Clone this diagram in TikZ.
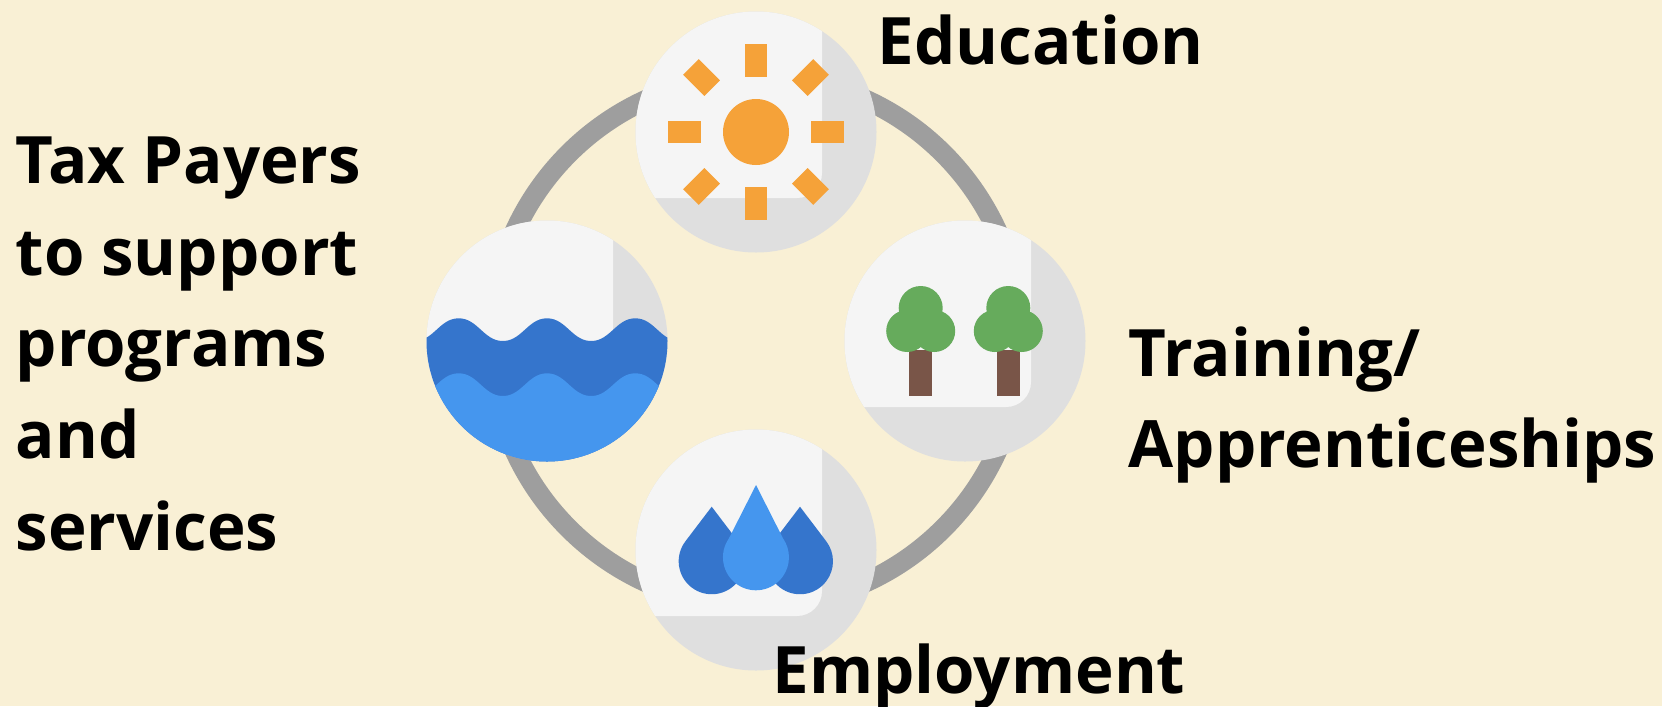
\documentclass[tikz,border=0pt]{standalone}
\usepackage{fontspec}
\setmainfont{Open Sans}
\definecolor{paper}{HTML}{F9F0D5}
\definecolor{ringgray}{HTML}{9E9E9E}
\definecolor{discshade}{HTML}{DFDFDF}
\definecolor{disclite}{HTML}{F5F5F5}
\definecolor{sunorange}{HTML}{F5A239}
\definecolor{deepblue}{HTML}{3575CC}
\definecolor{lightblue}{HTML}{4596EE}
\definecolor{leaf}{HTML}{66AB5C}
\definecolor{bark}{HTML}{795548}
\tikzset{
	disc/.style={circle, minimum size=2.41cm, inner sep=0pt, fill=discshade,
		path picture={\fill[disclite, rounded corners=.25cm, shift={(path picture bounding box.center)}]
			(-1.4,1.4) rectangle (.66,-.66);}},
	label/.style={inner sep=0pt, align=left, font=\fontsize{18.6}{26.1}\selectfont\bfseries},
	ray/.style={fill=sunorange},
	crown/.style={fill=leaf},
	trunk/.style={fill=bark}
}
\begin{document}
\begin{tikzpicture}
	\fill[paper] (0,0) rectangle (16.62,7.06);
	\useasboundingbox (0,0) rectangle (16.62,7.06);

	\coordinate (hub) at (7.56,3.65);
	\draw[ringgray, line width=.2cm] (hub) circle (2.65);

	\node[disc] (sun) at (7.56,5.74){};
	\node[disc] (water) at (5.47,3.65){};
	\node[disc] (trees) at (9.65,3.65){};
	\node[disc] (drops) at (7.56,1.56){};

	% sun
	\fill[sunorange] (sun) circle (.33);
	\fill[ray, shift={(sun)}, rotate=0] (-.113,.55) rectangle (.113,.88);
	\fill[ray, shift={(sun)}, rotate=90] (-.113,.55) rectangle (.113,.88);
	\fill[ray, shift={(sun)}, rotate=180] (-.113,.55) rectangle (.113,.88);
	\fill[ray, shift={(sun)}, rotate=270] (-.113,.55) rectangle (.113,.88);
	\fill[ray, shift={(sun)}, rotate=45] (-.11,.62) rectangle (.11,.92);
	\fill[ray, shift={(sun)}, rotate=135] (-.11,.62) rectangle (.11,.92);
	\fill[ray, shift={(sun)}, rotate=225] (-.11,.62) rectangle (.11,.92);
	\fill[ray, shift={(sun)}, rotate=315] (-.11,.62) rectangle (.11,.92);

	% water
	\begin{scope}
		\clip (water) circle (1.205);
		\fill[deepblue, shift={(water)}] plot[domain=-1.3:1.3, samples=90, smooth] (\x, {.1135+.117*(cos(\x*360/.883)-.03*cos(3*\x*360/.883))}) -- (1.3,-1.3) -- (-1.3,-1.3) -- cycle;
		\fill[lightblue, shift={(water)}] plot[domain=-1.3:1.3, samples=90, smooth] (\x, {-.4365+.117*(cos(\x*360/.883)-.03*cos(3*\x*360/.883))}) -- (1.3,-1.3) -- (-1.3,-1.3) -- cycle;
	\end{scope}

	% trees
	\fill[trunk, shift={(trees)}] (-.557,-.09) rectangle (-.33,-.55);
	\fill[trunk, shift={(trees)}] (.32,-.09) rectangle (.547,-.55);
	\fill[crown, shift={(trees)}] (-.443,.33) circle (.22);
	\fill[crown, shift={(trees)}] (-.578,.1) circle (.21);
	\fill[crown, shift={(trees)}] (-.308,.1) circle (.21);
	\fill[crown, shift={(trees)}] (.433,.33) circle (.22);
	\fill[crown, shift={(trees)}] (.298,.1) circle (.21);
	\fill[crown, shift={(trees)}] (.568,.1) circle (.21);

	% drops
	\fill[deepblue, shift={(drops)}] (-.443,.433) -- ++(-.263,-.346) arc (142.8:397.2:.33) -- cycle;
	\fill[deepblue, shift={(drops)}] (.44,.433) -- ++(-.263,-.346) arc (142.8:397.2:.33) -- cycle;
	\fill[lightblue, shift={(drops)}] (0,.65) -- ++(-.271,-.534) arc (145.1:394.9:.33) -- cycle;

	\node[label, anchor=base west] (education) at (8.77,6.42){Education};
	\node[label, anchor=base west] (training) at (11.28,3.3){Training/};
	\node[label, anchor=base west] (apprentice) at (11.28,2.39){Apprenticeships};
	\node[label, anchor=base west] (employment) at (7.72,.13){Employment};
	\node[label, anchor=north west] (taxpayers) at (.15,5.7){Tax Payers\\to support\\programs\\and\\services};
\end{tikzpicture}
\end{document}
